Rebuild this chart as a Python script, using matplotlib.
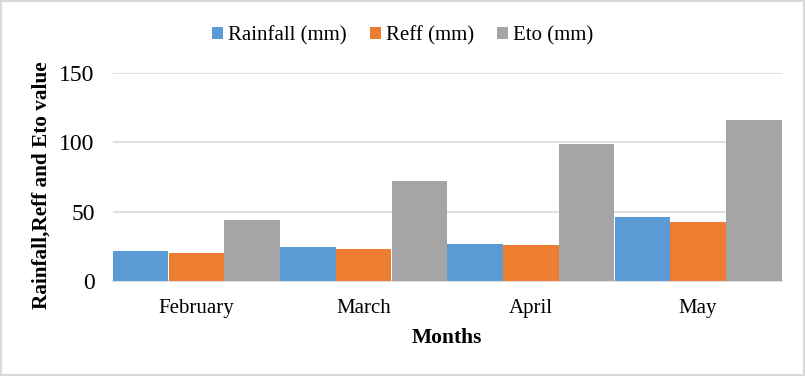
import matplotlib
matplotlib.use("Agg")
import matplotlib.pyplot as plt
import matplotlib.patches as mpatches
import numpy as np

# ── Data
months   = ["February", "March", "April", "May"]
rainfall = [21.6, 24.5, 26.7, 46.1]
reff     = [20.2, 23.1, 26.0, 42.6]
eto      = [44.0, 72.1, 98.9, 116.1]

series = [
    ("Rainfall (mm)", rainfall, "#5b9bd5"),
    ("Reff (mm)",     reff,     "#ed7d31"),
    ("Eto (mm)",      eto,      "#a5a5a5"),
]

plt.rcParams["font.family"] = ["Liberation Serif", "DejaVu Serif"]

fig = plt.figure(figsize=(8.05, 3.76), dpi=100)
ax = fig.add_axes([0.140, 0.253, 0.831, 0.553])

x = np.arange(len(months))
w = 1 / 3
for k, (label, vals, color) in enumerate(series):
    ax.bar(x + (k - 1) * w, vals, width=w * 0.995, color=color,
           label=label, zorder=3)

ax.set_xlim(-0.5, len(months) - 0.5)
ax.set_ylim(0, 150)
ax.set_yticks([0, 50, 100, 150])
ax.set_xticks(x)
ax.set_xticklabels(months)
ax.tick_params(axis="x", length=0, labelsize=15, pad=13)
ax.tick_params(axis="y", length=0, labelsize=17, pad=13)

ax.grid(axis="y", color="#d9d9d9", linewidth=1.2, zorder=0)
for s in ["top", "right", "left"]:
    ax.spines[s].set_visible(False)
ax.spines["bottom"].set_color("#d9d9d9")
ax.spines["bottom"].set_linewidth(1.2)

ax.set_xlabel("Months", fontsize=15.5, fontweight="bold", labelpad=7)
ax.set_ylabel("Rainfall,Reff and Eto value", fontsize=15.3,
              fontweight="bold")
ax.yaxis.set_label_coords(-0.091, 0.46)

leg = ax.legend(loc="center", bbox_to_anchor=(0.5, 0.905),
                bbox_transform=fig.transFigure,
                ncol=3, frameon=False, fontsize=15, handlelength=0.53,
                handleheight=0.53, handletextpad=0.25, columnspacing=1.1)

fig.patches.append(mpatches.Rectangle((0, 0), 1, 1, transform=fig.transFigure,
                                      fill=False, edgecolor="#d9d9d9",
                                      linewidth=3))

fig.savefig("out.png", dpi=100)
